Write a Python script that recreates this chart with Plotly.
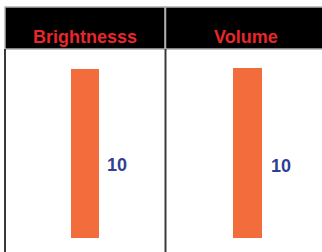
import plotly.graph_objects as go

categories = ["Brightnesss", "Volume"]
values = [10, 10]
value_labels = ["10", "10"]

W, H = 322, 252
BAR = "#F26C3C"
TITLE_RED = "#E8262B"
LABEL_BLUE = "#2F3F94"
FONT = "Liberation Sans, Arial, sans-serif"

fig = go.Figure()

# panel geometry (pixels)
panels = [
    dict(x0=5, x1=165, xr=[-0.5, 0.5], bw=0.181, yr=[-0.86, 11.19], xshift=20, yshift=-12),
    dict(x0=165.5, x1=322, xr=[-0.5, 0.466], bw=0.179, yr=[-0.84, 11.13], xshift=22.5, yshift=-13),
]
header_top, header_bot = 7, 49

for i, (cat, val, lab, p) in enumerate(zip(categories, values, value_labels, panels)):
    ax = "" if i == 0 else str(i + 1)
    fig.add_trace(go.Bar(
        x=[cat], y=[val], width=[p["bw"]],
        marker=dict(color=BAR, line=dict(width=0)),
        xaxis="x" + ax, yaxis="y" + ax, hoverinfo="skip",
    ))
    dom_x = [p["x0"] / W, min(p["x1"] / W, 1)]
    dom_y = [0, (H - header_bot) / H]
    fig.update_layout(**{
        "xaxis" + ax: dict(domain=dom_x, range=p["xr"], visible=False, fixedrange=True),
        "yaxis" + ax: dict(domain=dom_y, range=p["yr"], visible=False, fixedrange=True),
    })
    # header block
    fig.add_shape(type="rect", xref="paper", yref="paper",
                  x0=dom_x[0], x1=dom_x[1] + (0.01 if i else 0),
                  y0=(H - header_bot) / H, y1=(H - header_top) / H,
                  fillcolor="black", line=dict(color="#B0B0B0", width=1.5), layer="below")
    # panel body left border
    fig.add_shape(type="line", xref="paper", yref="paper",
                  x0=dom_x[0], x1=dom_x[0], y0=0, y1=(H - header_bot) / H,
                  line=dict(color="#3A3A3A", width=2))
    # title
    fig.add_annotation(xref="paper", yref="paper",
                       x=(p["x0"] + (p["x0"] + 160)) / 2 / W, y=(H - 37) / H,
                       text="<b>" + cat + "</b>", showarrow=False,
                       font=dict(family=FONT, size=18, color=TITLE_RED),
                       xanchor="center", yanchor="middle")
    # value label
    fig.add_annotation(xref="x" + ax, yref="y" + ax, x=cat, y=val / 2,
                       text="<b>" + lab + "</b>", showarrow=False,
                       font=dict(family=FONT, size=18, color=LABEL_BLUE),
                       xanchor="left", yanchor="middle",
                       xshift=p["xshift"], yshift=p["yshift"])

fig.update_layout(
    width=W, height=H,
    margin=dict(l=0, r=0, t=0, b=0),
    paper_bgcolor="white", plot_bgcolor="white",
    showlegend=False, bargap=0,
)

fig.write_html("out.html", config={"displayModeBar": False},
               post_script="document.body.style.margin='0';document.body.style.overflow='hidden';")
